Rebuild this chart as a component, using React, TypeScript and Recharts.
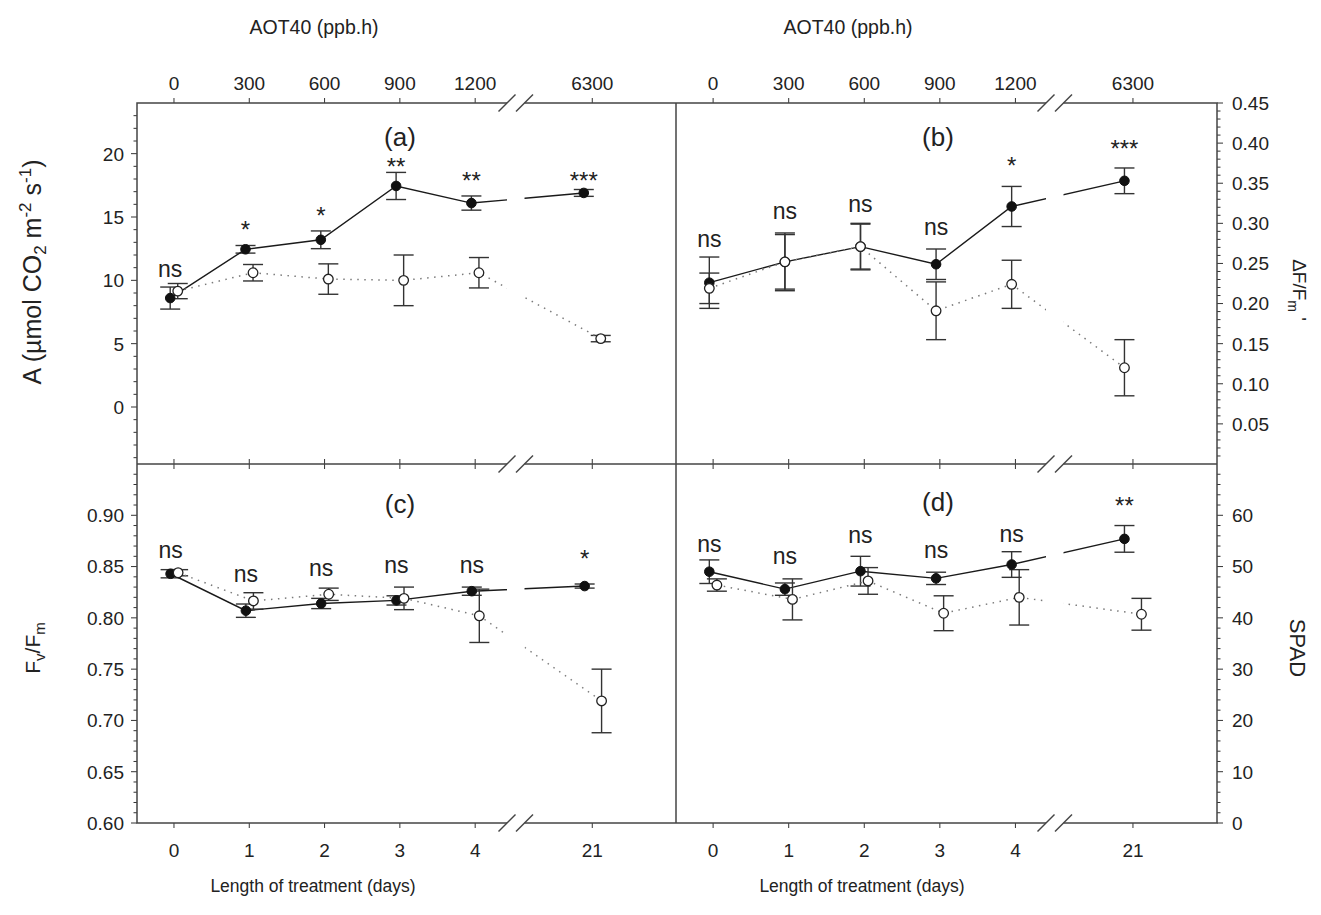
import React from 'react';
import { ComposedChart, Line, Scatter, XAxis, YAxis, ErrorBar } from 'recharts';

// shared x categories: days of treatment and the matching AOT40 (ppb.h)
const days = [0, 1, 2, 3, 4, 21];
const aot40 = ['0', '300', '600', '900', '1200', '6300'];

// (a) A (umol CO2 m-2 s-1)
const aFilled = [8.6, 12.45, 13.2, 17.45, 16.1, 16.9];
const aFilledErr = [0.87, 0.3, 0.7, 1.07, 0.56, 0.27];
const aOpen = [9.15, 10.6, 10.1, 10.0, 10.6, 5.4];
const aOpenErr = [0.6, 0.65, 1.2, 2.0, 1.2, 0.25];
const aSig = ['ns', '*', '*', '**', '**', '***'];

// (b) deltaF/Fm'
const bFilled = [0.226, 0.252, 0.271, 0.249, 0.321, 0.353];
const bFilledErr = [0.032, 0.034, 0.029, 0.019, 0.025, 0.016];
const bOpen = [0.219, 0.252, 0.271, 0.191, 0.224, 0.12];
const bOpenErr = [0.019, 0.036, 0.028, 0.036, 0.03, 0.035];
const bSig = ['ns', 'ns', 'ns', 'ns', '*', '***'];

// (c) Fv/Fm
const cFilled = [0.843, 0.807, 0.814, 0.817, 0.826, 0.831];
const cFilledErr = [0.004, 0.0065, 0.005, 0.0045, 0.004, 0.002];
const cOpen = [0.844, 0.8165, 0.823, 0.819, 0.802, 0.719];
const cOpenErr = [0.003, 0.008, 0.006, 0.011, 0.026, 0.031];
const cSig = ['ns', 'ns', 'ns', 'ns', 'ns', '*'];

// (d) SPAD
const dFilled = [49.0, 45.6, 49.1, 47.7, 50.4, 55.4];
const dFilledErr = [2.3, 1.2, 2.9, 1.2, 2.5, 2.6];
const dOpen = [46.4, 43.6, 47.2, 40.9, 44.0, 40.7];
const dOpenErr = [1.2, 4.0, 2.6, 3.4, 5.4, 3.1];
const dSig = ['ns', 'ns', 'ns', 'ns', 'ns', '**'];

// tick labels of the y axes
const aLabels = [0, 5, 10, 15, 20];
const bLabels = [0.05, 0.1, 0.15, 0.2, 0.25, 0.3, 0.35, 0.4, 0.45];
const cLabels = [0.6, 0.65, 0.7, 0.75, 0.8, 0.85, 0.9];
const dLabels = [0, 10, 20, 30, 40, 50, 60];

// ---- layout ----
const FONT = '"Liberation Sans", Arial, Helvetica, sans-serif';
const INK = '#222';
const X_DOMAIN: [number, number] = [-0.491, 6.667];
const BREAK_AT = 5.555; // where day 21 sits after the axis break

const xPos = (day: number, off: number) => (day <= 4 ? day + off : BREAK_AT + off * 2.25);
const xTicks = days.map((d) => xPos(d, 0));

const range = (a: number, b: number, step: number) => {
  const out: number[] = [];
  for (let v = a; v <= b + step / 10; v += step) out.push(+v.toFixed(4));
  return out;
};

// where the significance marks sit (y units, text baseline)
const aSigY = [10.24, 13.33, 14.41, 18.35, 17.25, 17.25];
const bSigY = [0.2705, 0.3054, 0.3141, 0.2855, 0.3619, 0.3825];
const cSigY = [0.8585, 0.8351, 0.8409, 0.8438, 0.8438, 0.8496];
const dSigY = [52.83, 50.49, 54.59, 51.66, 54.78, 60.3];

type PanelProps = {
  col: 0 | 1;
  row: 0 | 1;
  filled: number[];
  filledErr: number[];
  open: number[];
  openErr: number[];
  sig: string[];
  sigY: number[];
  domain: [number, number];
  ticks: number[];
  labels: number[];
  digits: number;
  offsets: [number, number];
};

function Panel(p: PanelProps) {
  const colGeo = p.col === 0
    ? { left: 0, width: 700, margin: { left: 0, right: 24 }, yw: 137, axisX: 137, side: 'left' as const }
    : { left: 656, width: 665, margin: { left: 20, right: 0 }, yw: 104, axisX: 561, side: 'right' as const };
  const rowGeo = p.row === 0
    ? { top: 0, height: 480, mt: 103, bh: 16, plotTop: 103, plotBottom: 464 }
    : { top: 444, height: 440, mt: 20, bh: 61, plotTop: 20, plotBottom: 379 };

  const filledData = days.map((d, i) => ({ x: xPos(d, p.offsets[0]), y: p.filled[i], err: p.filledErr[i] }));
  const openData = days.map((d, i) => ({ x: xPos(d, p.offsets[1]), y: p.open[i], err: p.openErr[i] }));
  const sigData = days.map((d, i) => ({ x: xPos(d, p.offsets[0]), y: p.sigY[i], label: p.sig[i] }));

  const yTick = (t: any) => {
    const v = t.payload.value;
    const isMajor = p.labels.some((l) => Math.abs(l - v) < 1e-6);
    const len = isMajor ? 6 : 3.5;
    const dir = colGeo.side === 'left' ? -1 : 1;
    return (
      <g>
        <line x1={colGeo.axisX} x2={colGeo.axisX + dir * len} y1={t.y} y2={t.y} stroke="#333" strokeWidth={1} />
        {isMajor && (
          <text
            x={colGeo.side === 'left' ? colGeo.axisX - 13 : colGeo.axisX + 15}
            y={t.y}
            dy="0.36em"
            textAnchor={colGeo.side === 'left' ? 'end' : 'start'}
            fontSize={19}
            fontFamily={FONT}
            fill={INK}
          >
            {v.toFixed(p.digits)}
          </text>
        )}
      </g>
    );
  };

  const tickIndex = (v: number) => xTicks.findIndex((t) => Math.abs(t - v) < 1e-6);

  // one x axis per panel; its tick draws the marks on both the top and bottom edge
  const xTick = (t: any) => {
    const i = tickIndex(t.payload.value);
    const top = rowGeo.plotTop;
    const bot = rowGeo.plotBottom;
    return (
      <g>
        {p.row === 0 ? (
          <>
            <line x1={t.x} x2={t.x} y1={top} y2={top - 5} stroke="#333" strokeWidth={1} />
            <line x1={t.x} x2={t.x} y1={bot - 5} y2={bot + 5} stroke="#333" strokeWidth={1} />
            <text x={t.x} y={top - 13} textAnchor="middle" fontSize={19} fontFamily={FONT} fill={INK}>
              {aot40[i]}
            </text>
          </>
        ) : (
          <>
            <line x1={t.x} x2={t.x} y1={bot} y2={bot + 5} stroke="#333" strokeWidth={1} />
            <text x={t.x} y={bot + 34} textAnchor="middle" fontSize={19} fontFamily={FONT} fill={INK}>
              {days[i]}
            </text>
          </>
        )}
      </g>
    );
  };

  const sigShape = (s: any) => (
    <text
      x={s.cx}
      y={s.cy}
      textAnchor="middle"
      fontSize={s.payload.label === 'ns' ? 23 : 24}
      fontFamily={FONT}
      fill={INK}
    >
      {s.payload.label}
    </text>
  );

  return (
    <div style={{ position: 'absolute', left: colGeo.left, top: rowGeo.top, zIndex: p.row === 0 ? 2 : 1 }}>
      <ComposedChart
        width={colGeo.width}
        height={rowGeo.height}
        margin={{ top: rowGeo.mt, bottom: 0, left: colGeo.margin.left, right: colGeo.margin.right }}
      >
        <XAxis
          orientation="bottom"
          type="number"
          dataKey="x"
          domain={X_DOMAIN}
          ticks={xTicks}
          interval={0}
          height={rowGeo.bh}
          axisLine={false}
          tickLine={false}
          tick={xTick}
        />
        <YAxis
          orientation={colGeo.side}
          type="number"
          dataKey="y"
          domain={p.domain}
          ticks={p.ticks}
          interval={0}
          width={colGeo.yw}
          axisLine={false}
          tickLine={false}
          tick={yTick}
        />
        <Line
          data={filledData}
          dataKey="y"
          stroke="#1a1a1a"
          strokeWidth={1.4}
          dot={{ r: 4.8, fill: '#111', stroke: '#111', strokeWidth: 1 }}
          activeDot={false}
          isAnimationActive={false}
        >
          <ErrorBar dataKey="err" direction="y" width={10} stroke="#333" strokeWidth={1.4} />
        </Line>
        <Line
          data={openData}
          dataKey="y"
          stroke="#7a7a7a"
          strokeWidth={1.5}
          strokeDasharray="1.5 5.5"
          dot={{ r: 4.8, fill: '#fff', stroke: '#222', strokeWidth: 1.3, strokeDasharray: 'none' }}
          activeDot={false}
          isAnimationActive={false}
        >
          <ErrorBar dataKey="err" direction="y" width={10} stroke="#333" strokeWidth={1.4} />
        </Line>
        <Scatter data={sigData} dataKey="y" shape={sigShape} isAnimationActive={false} />
      </ComposedChart>
    </div>
  );
}

const FRAME = { left: 137, mid: 676, right: 1217, top: 103, hmid: 464, bottom: 823 };
const BREAK_BANDS = [507, 1046];

function Overlay() {
  const slashes: React.ReactNode[] = [];
  BREAK_BANDS.forEach((bx) => {
    [bx, bx + 17.5].forEach((xc) => {
      [FRAME.top, FRAME.hmid, FRAME.bottom].forEach((y) => {
        slashes.push(
          <line key={`${xc}-${y}`} x1={xc - 8.5} y1={y + 8.5} x2={xc + 8.5} y2={y - 8.5} stroke="#444" strokeWidth={1.4} />
        );
      });
    });
  });
  const txt = { fontFamily: FONT, fill: INK };
  return (
    <svg width={1321} height={915} style={{ position: 'absolute', left: 0, top: 0, zIndex: 3, pointerEvents: 'none' }}>
      <rect
        x={FRAME.left}
        y={FRAME.top}
        width={FRAME.right - FRAME.left}
        height={FRAME.bottom - FRAME.top}
        fill="none"
        stroke="#444"
        strokeWidth={1.5}
      />
      <line x1={FRAME.left} x2={FRAME.right} y1={FRAME.hmid} y2={FRAME.hmid} stroke="#444" strokeWidth={1.5} />
      <line x1={FRAME.mid} x2={FRAME.mid} y1={FRAME.top} y2={FRAME.bottom} stroke="#444" strokeWidth={1.5} />
      {BREAK_BANDS.map((bx) => (
        <rect key={bx} x={bx} y={96} width={17.5} height={736} fill="#fff" />
      ))}
      {slashes}

      <text x={400} y={146} textAnchor="middle" fontSize={26} {...txt}>(a)</text>
      <text x={938} y={146} textAnchor="middle" fontSize={26} {...txt}>(b)</text>
      <text x={400} y={513} textAnchor="middle" fontSize={26} {...txt}>(c)</text>
      <text x={938} y={511} textAnchor="middle" fontSize={26} {...txt}>(d)</text>

      <text x={314} y={34} textAnchor="middle" fontSize={19.5} {...txt}>AOT40 (ppb.h)</text>
      <text x={848} y={34} textAnchor="middle" fontSize={19.5} {...txt}>AOT40 (ppb.h)</text>
      <text x={313} y={892} textAnchor="middle" fontSize={17.5} {...txt}>Length of treatment (days)</text>
      <text x={862} y={892} textAnchor="middle" fontSize={17.5} {...txt}>Length of treatment (days)</text>

      <text transform="translate(41,272) rotate(-90)" textAnchor="middle" fontSize={25} {...txt}>
        A (µmol CO<tspan dy={5} fontSize={17}>2</tspan>
        <tspan dy={-5}> m</tspan>
        <tspan dy={-10} fontSize={17}>-2</tspan>
        <tspan dy={10}> s</tspan>
        <tspan dy={-10} fontSize={17}>-1</tspan>
        <tspan dy={10}>)</tspan>
      </text>
      <text transform="translate(40,648) rotate(-90)" textAnchor="middle" fontSize={21} {...txt}>
        F<tspan dy={5} fontSize={15}>v</tspan>
        <tspan dy={-5}>/F</tspan>
        <tspan dy={5} fontSize={15}>m</tspan>
      </text>
      <text transform="translate(1293,290) rotate(90)" textAnchor="middle" fontSize={19} {...txt}>
        ΔF/F<tspan dy={5} fontSize={14}>m</tspan>
        <tspan dy={-5}> '</tspan>
      </text>
      <text transform="translate(1290,648) rotate(90)" textAnchor="middle" fontSize={22} {...txt}>SPAD</text>
    </svg>
  );
}

export default function App() {
  return (
    <div style={{ position: 'absolute', left: 0, top: 0, width: 1321, height: 915, background: '#fff', fontFamily: FONT }}>
      <Panel
        col={0}
        row={0}
        filled={aFilled}
        filledErr={aFilledErr}
        open={aOpen}
        openErr={aOpenErr}
        sig={aSig}
        sigY={aSigY}
        domain={[-4.5, 24]}
        ticks={range(-4, 23, 1)}
        labels={aLabels}
        digits={0}
        offsets={[-0.05, 0.05]}
      />
      <Panel
        col={1}
        row={0}
        filled={bFilled}
        filledErr={bFilledErr}
        open={bOpen}
        openErr={bOpenErr}
        sig={bSig}
        sigY={bSigY}
        domain={[0, 0.45]}
        ticks={range(0.01, 0.45, 0.01)}
        labels={bLabels}
        digits={2}
        offsets={[-0.05, -0.05]}
      />
      <Panel
        col={0}
        row={1}
        filled={cFilled}
        filledErr={cFilledErr}
        open={cOpen}
        openErr={cOpenErr}
        sig={cSig}
        sigY={cSigY}
        domain={[0.6, 0.95]}
        ticks={range(0.6, 0.94, 0.01)}
        labels={cLabels}
        digits={2}
        offsets={[-0.045, 0.055]}
      />
      <Panel
        col={1}
        row={1}
        filled={dFilled}
        filledErr={dFilledErr}
        open={dOpen}
        openErr={dOpenErr}
        sig={dSig}
        sigY={dSigY}
        domain={[0, 70]}
        ticks={range(0, 68, 2)}
        labels={dLabels}
        digits={0}
        offsets={[-0.05, 0.05]}
      />
      <Overlay />
    </div>
  );
}
